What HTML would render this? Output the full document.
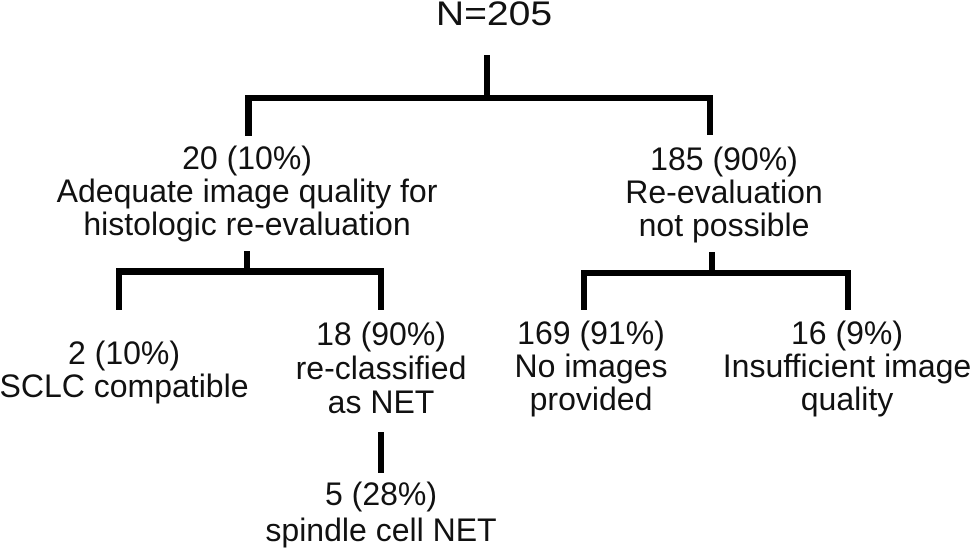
<!DOCTYPE html>
<html><head><style>
body{margin:0;width:970px;height:554px;background:#fff;position:relative;overflow:hidden;font-family:"Liberation Sans",Arial,sans-serif;color:#111}
.t{position:absolute;text-align:center;font-size:32px;line-height:34px;white-space:nowrap;transform:translateX(-50%)}
.l{position:absolute;background:#000}
</style></head><body>
<div class="t" style="left:494px;top:-3px;font-size:34px;line-height:34px;transform:translateX(-50%) scaleX(1.15)">N=205</div>
<div class="l" style="left:484px;top:55px;width:6px;height:44px"></div>
<div class="l" style="left:245px;top:95px;width:468px;height:6px"></div>
<div class="l" style="left:245px;top:95px;width:7px;height:41px"></div>
<div class="l" style="left:707px;top:95px;width:6px;height:40px"></div>

<div class="t" style="left:247px;top:142px;line-height:33px">20 (10%)<br>Adequate image quality for<br>histologic re-evaluation</div>
<div class="t" style="left:724px;top:143px;line-height:33px">185 (90%)<br>Re-evaluation<br>not possible</div>

<div class="l" style="left:244px;top:251px;width:6px;height:22px"></div>
<div class="l" style="left:116px;top:268px;width:268px;height:7px"></div>
<div class="l" style="left:116px;top:268px;width:6px;height:42px"></div>
<div class="l" style="left:378px;top:268px;width:6px;height:42px"></div>

<div class="l" style="left:709px;top:252px;width:6px;height:22px"></div>
<div class="l" style="left:581px;top:270px;width:270px;height:6px"></div>
<div class="l" style="left:581px;top:270px;width:6px;height:40px"></div>
<div class="l" style="left:845px;top:270px;width:6px;height:40px"></div>

<div class="t" style="left:124px;top:336px">2 (10%)</div>
<div class="t" style="left:124px;top:369px">SCLC compatible</div>
<div class="t" style="left:381px;top:317px">18 (90%)<br>re-classified<br>as NET</div>
<div class="t" style="left:591px;top:317px;line-height:33px">169 (91%)<br>No images<br>provided</div>
<div class="t" style="left:847px;top:317px;line-height:33px">16 (9%)<br>Insufficient image<br>quality</div>

<div class="l" style="left:378px;top:432px;width:6px;height:41px"></div>
<div class="t" style="left:381px;top:476px;line-height:36px">5 (28%)<br>spindle cell NET</div>
</body></html>
